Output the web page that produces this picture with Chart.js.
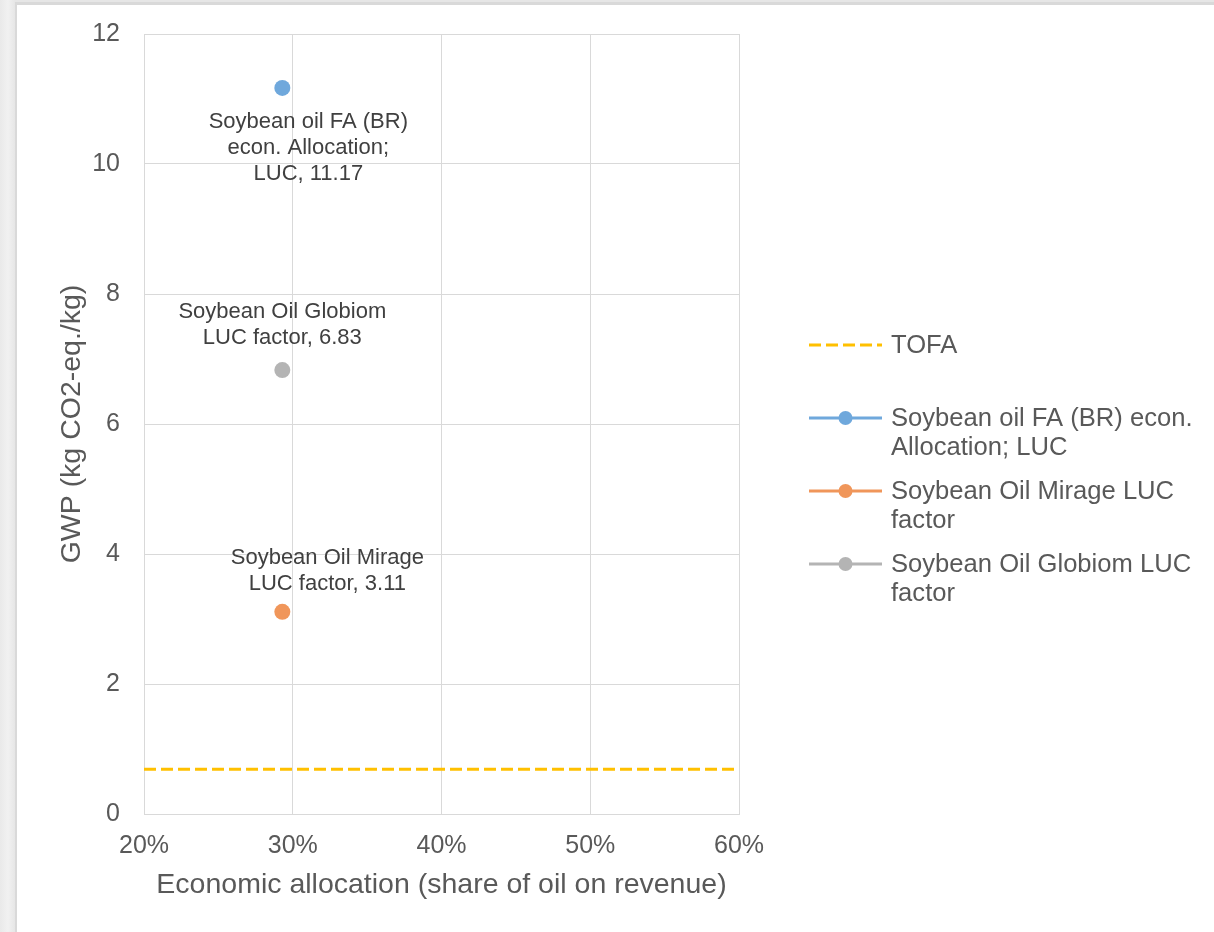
<!DOCTYPE html>
<html>
<head>
<meta charset="utf-8">
<script src="https://cdn.jsdelivr.net/npm/chart.js@4/dist/chart.umd.min.js"></script>
<style>
  html, body { margin: 0; padding: 0; }
  body { width: 1214px; height: 932px; overflow: hidden; position: relative;
         background: linear-gradient(90deg, #e9e9e9 0px, #f1f1f1 8px, #e6e6e6 15px); }
  #card { position: absolute; left: 15px; top: 2px; width: 1300px; height: 1000px;
          background: #fff; border-top: 3px solid #d9d9d9; border-left: 2px solid #d9d9d9; }
  #wrap { position: absolute; left: 0; top: 0; width: 1214px; height: 932px; }
</style>
</head>
<body>
<div id="card"></div>
<div id="wrap"><canvas id="chart"></canvas></div>
<script>
// series
const tofaName = 'TOFA';
const tofaShare = [0.2, 0.6];
const tofaGwp = [0.69, 0.69];

const soyNames = ['Soybean oil FA (BR) econ. Allocation; LUC', 'Soybean Oil Mirage LUC factor', 'Soybean Oil Globiom LUC factor'];
const soyShare = [0.293, 0.293, 0.293];
const soyGwp = [11.17, 3.11, 6.83];
const soyColors = ['#6FA8DC', '#F0965A', '#B4B4B4'];
const tofaColor = '#FFC000';

// axes
const xTicks = [0.2, 0.3, 0.4, 0.5, 0.6];
const yTicks = [0, 2, 4, 6, 8, 10, 12];
const xTitle = 'Economic allocation (share of oil on revenue)';
const yTitle = 'GWP (kg CO2-eq./kg)';

const FONT = '"Liberation Sans", Arial, sans-serif';
const textGrey = '#595959';
const gridGrey = '#d9d9d9';

// where each data label sits relative to its point
const labelPlacement = [
    { dx: 26, dy: 34, pos: 'below' },
    { dx: 45, dy: -28, pos: 'above' },
    { dx: 0, dy: -32, pos: 'above' }
];

function wrapText(ctx, text, maxWidth) {
    const words = text.split(' ');
    const lines = [];
    let cur = '';
    words.forEach(w => {
        const test = cur ? cur + ' ' + w : w;
        if(cur && ctx.measureText(test).width > maxWidth) {
            lines.push(cur);
            cur = w;
        } else {
            cur = test;
        }
    });
    if(cur) lines.push(cur);
    return lines;
}

const pointLabels = {
    id: 'pointLabels',
    afterDatasetsDraw(chart) {
        const ctx = chart.ctx;
        ctx.save();
        ctx.font = '22px ' + FONT;
        ctx.fillStyle = '#404040';
        ctx.textAlign = 'center';
        ctx.textBaseline = 'middle';
        const lh = 26;
        soyNames.forEach((name, i) => {
            const pt = chart.getDatasetMeta(i + 1).data[0];
            const lines = wrapText(ctx, name + ', ' + soyGwp[i].toFixed(2), 212);
            const p = labelPlacement[i];
            const y0 = p.pos === 'below' ? pt.y + p.dy : pt.y + p.dy - (lines.length - 1) * lh;
            lines.forEach((l, k) => ctx.fillText(l, pt.x + p.dx, y0 + k * lh));
        });
        ctx.restore();
    }
};

const sideLegend = {
    id: 'sideLegend',
    afterDraw(chart) {
        const ctx = chart.ctx;
        const x0 = 809, len = 73, tx = 891, top = 345, step = 73, lh = 29;
        ctx.save();
        ctx.font = '25.6px ' + FONT;
        ctx.textBaseline = 'middle';
        ctx.textAlign = 'left';
        chart.data.datasets.forEach((ds, i) => {
            const y = top + i * step;
            ctx.strokeStyle = ds.borderColor;
            ctx.lineWidth = 3;
            ctx.setLineDash(ds.borderDash || []);
            ctx.beginPath();
            ctx.moveTo(x0, y);
            ctx.lineTo(x0 + len, y);
            ctx.stroke();
            ctx.setLineDash([]);
            if(i > 0) {
                ctx.fillStyle = ds.backgroundColor;
                ctx.beginPath();
                ctx.arc(x0 + len / 2, y, 7, 0, Math.PI * 2);
                ctx.fill();
            }
            ctx.fillStyle = textGrey;
            wrapText(ctx, ds.label, 318).forEach((l, k) => ctx.fillText(l, tx, y + 1 + k * lh));
        });
        ctx.restore();
    }
};

const datasets = [{
    type: 'line',
    label: tofaName,
    data: tofaShare.map((x, i) => ({ x: x, y: tofaGwp[i] })),
    borderColor: tofaColor,
    backgroundColor: tofaColor,
    borderWidth: 3,
    borderDash: [12, 5],
    pointRadius: 0,
    fill: false
}].concat(soyNames.map((name, i) => ({
    type: 'scatter',
    label: name,
    data: [{ x: soyShare[i], y: soyGwp[i] }],
    backgroundColor: soyColors[i],
    borderColor: soyColors[i],
    borderWidth: 0,
    pointRadius: 8,
    pointHoverRadius: 8
})));

new Chart(document.getElementById('chart'), {
    data: { datasets: datasets },
    options: {
        responsive: true,
        maintainAspectRatio: false,
        animation: false,
        events: [],
        layout: { padding: { top: 34, right: 475, bottom: 0, left: 0 } },
        plugins: { legend: { display: false }, tooltip: { enabled: false } },
        scales: {
            x: {
                type: 'linear',
                min: xTicks[0],
                max: xTicks[xTicks.length - 1],
                afterBuildTicks: s => { s.ticks = xTicks.map(v => ({ value: v })); },
                afterFit: s => { s.height = 118; },
                ticks: { callback: v => Math.round(v * 100) + '%', color: textGrey, font: { family: FONT, size: 25 }, padding: 17 },
                grid: { color: gridGrey, drawTicks: false },
                border: { color: gridGrey, width: 1 },
                title: { display: true, text: xTitle, color: textGrey, font: { family: FONT, size: 28.5 }, padding: { top: 0, bottom: 30 } }
            },
            y: {
                type: 'linear',
                min: yTicks[0],
                max: yTicks[yTicks.length - 1],
                afterBuildTicks: s => { s.ticks = yTicks.map(v => ({ value: v })); },
                afterFit: s => { s.width = 144; s.paddingTop = 0; s.paddingBottom = 0; },
                ticks: { color: textGrey, font: { family: FONT, size: 25 }, padding: 24 },
                grid: { color: gridGrey, drawTicks: false },
                border: { color: gridGrey, width: 1 },
                title: { display: true, text: yTitle, color: textGrey, font: { family: FONT, size: 28.5 }, padding: { top: 55, bottom: 0 } }
            }
        }
    },
    plugins: [pointLabels, sideLegend]
});
</script>
</body>
</html>
